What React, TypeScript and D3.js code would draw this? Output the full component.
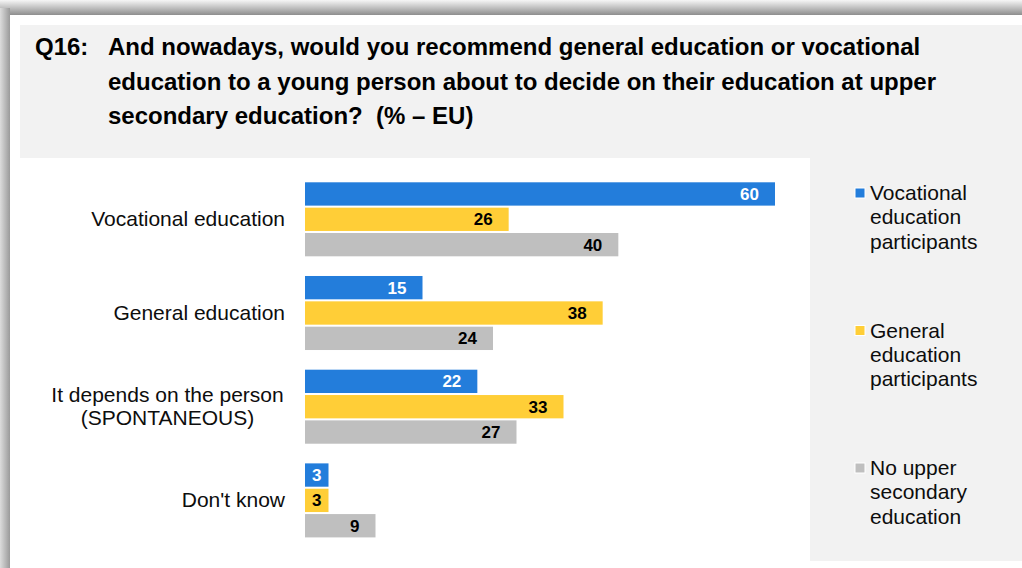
import React from "react";
import * as d3 from "d3";

const categories: string[][] = [
  ["Vocational education"],
  ["General education"],
  ["It depends on the person", "(SPONTANEOUS)"],
  ["Don't know"],
];
const seriesNames: string[][] = [
  ["Vocational", "education", "participants"],
  ["General", "education", "participants"],
  ["No upper", "secondary", "education"],
];
const seriesColors = ["#237DDB", "#FFCE37", "#BFBFBF"];
const labelColors = ["#FFFFFF", "#000000", "#000000"];
const vocationalValues = [60, 15, 22, 3];
const generalValues = [26, 38, 33, 3];
const noUpperValues = [40, 24, 27, 9];
const titleLines = [
  "And nowadays, would you recommend general education or vocational",
  "education to a young person about to decide on their education at upper",
  "secondary education?  (% \u2013 EU)",
];

const W = 1022;
const H = 568;
const FONT = "'Liberation Sans', Arial, Helvetica, sans-serif";

export default function App() {
  const series = [vocationalValues, generalValues, noUpperValues];
  const catKeys = categories.map((c) => c.join(" "));
  const x = d3.scaleLinear().domain([0, 60]).range([305, 775]);
  const y = d3
    .scaleBand<string>()
    .domain(catKeys)
    .range([182.3, 537.4])
    .paddingInner(0.21)
    .paddingOuter(0);
  const yInner = d3
    .scaleBand<number>()
    .domain([0, 1, 2])
    .range([0, y.bandwidth()])
    .paddingInner(0.08);

  return (
    <svg
      width={W}
      height={H}
      style={{ position: "absolute", left: 0, top: 0, fontFamily: FONT }}
    >
      <defs>
        <linearGradient id="shTop" x1="0" y1="0" x2="0" y2="1">
          <stop offset="0" stopColor="#f6f6f6" />
          <stop offset="1" stopColor="#8e8e8e" />
        </linearGradient>
        <linearGradient id="shLeft" x1="0" y1="0" x2="1" y2="0">
          <stop offset="0" stopColor="#dcdcdc" />
          <stop offset="1" stopColor="#9a9a9a" />
        </linearGradient>
      </defs>
      <rect x={0} y={0} width={W} height={H} fill="#ffffff" />
      <rect x={0} y={0} width={W} height={15} fill="url(#shTop)" />
      <rect x={0} y={8} width={10} height={H - 8} fill="url(#shLeft)" />
      <rect x={10} y={15} width={W - 10} height={H - 15} fill="#ffffff" />
      {/* title box */}
      <rect x={20} y={25} width={W - 20} height={133} fill="#f2f2f2" />
      <text x={35} y={55} fontSize={24} fontWeight="bold" fill="#000">
        Q16:
      </text>
      {titleLines.map((t, i) => (
        <text
          key={i}
          x={108}
          y={55 + i * 34.7}
          fontSize={24}
          fontWeight="bold"
          fill="#000"
          style={{ whiteSpace: "pre" }}
        >
          {t}
        </text>
      ))}
      {/* legend panel */}
      <rect x={810} y={158} width={W - 810} height={403} fill="#f2f2f2" />
      {seriesNames.map((lines, i) => {
        const by = 200 + i * 137.5;
        return (
          <g key={i}>
            <rect
              x={855}
              y={by - 12}
              width={10}
              height={10}
              fill={seriesColors[i]}
              stroke="#ffffff"
              strokeWidth={1}
            />
            {lines.map((l, j) => (
              <text key={j} x={870} y={by + j * 24.3} fontSize={21} fill="#0d0d0d">
                {l}
              </text>
            ))}
          </g>
        );
      })}
      {/* category labels */}
      {categories.map((lines, ci) => {
        const cy = (y(catKeys[ci]) as number) + y.bandwidth() / 2;
        const lh = 23;
        const top = cy - ((lines.length - 1) * lh) / 2 + 7;
        const multi = lines.length > 1;
        return (
          <text
            key={ci}
            fontSize={21}
            fill="#0d0d0d"
            textAnchor={multi ? "middle" : "end"}
          >
            {lines.map((l, j) => (
              <tspan key={j} x={multi ? 167.5 : 285} y={top + j * lh}>
                {l}
              </tspan>
            ))}
          </text>
        );
      })}
      {/* bars */}
      {series.map((vals, si) =>
        vals.map((v, ci) => {
          const by = (y(catKeys[ci]) as number) + (yInner(si) as number);
          const bw = x(v) - x(0);
          const bh = yInner.bandwidth();
          const narrow = bw < 40;
          return (
            <g key={si + "-" + ci}>
              <rect x={x(0)} y={by} width={bw} height={bh} fill={seriesColors[si]} />
              <text
                x={narrow ? x(0) + bw / 2 : x(v) - 16}
                y={by + bh / 2 + 6}
                textAnchor={narrow ? "middle" : "end"}
                fontSize={17}
                fontWeight="bold"
                fill={labelColors[si]}
              >
                {v}
              </text>
            </g>
          );
        })
      )}
    </svg>
  );
}
